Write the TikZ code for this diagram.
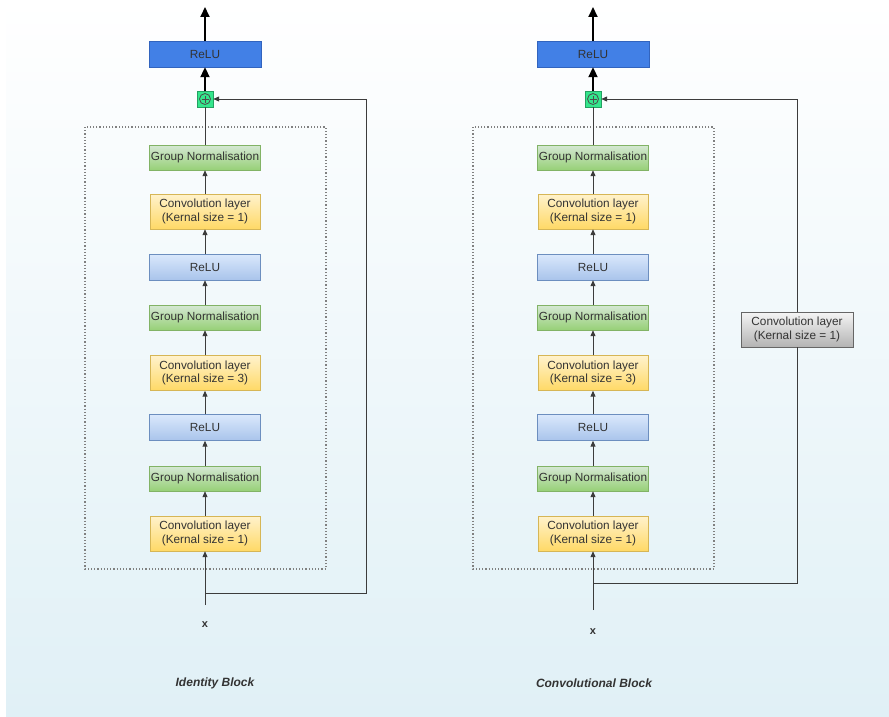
\documentclass[tikz,border=0pt]{standalone}
\usepackage{fontspec}
\setmainfont{Liberation Sans}
\usetikzlibrary{arrows.meta}

\definecolor{txtgray}{RGB}{51,51,51}
\definecolor{linegray}{RGB}{60,60,60}
\definecolor{bgblue}{RGB}{224,240,246}
\definecolor{reluTopFill}{RGB}{66,128,230}
\definecolor{reluTopLine}{RGB}{50,100,190}
\definecolor{reluA}{RGB}{218,232,252}
\definecolor{reluB}{RGB}{169,196,235}
\definecolor{reluLine}{RGB}{108,142,191}
\definecolor{gnA}{RGB}{213,232,212}
\definecolor{gnB}{RGB}{151,208,119}
\definecolor{gnLine}{RGB}{130,179,102}
\definecolor{convA}{RGB}{255,242,204}
\definecolor{convB}{RGB}{255,217,102}
\definecolor{convLine}{RGB}{214,182,86}
\definecolor{skipA}{RGB}{245,245,245}
\definecolor{skipB}{RGB}{179,179,179}
\definecolor{skipLine}{RGB}{102,102,102}
\definecolor{plusFill}{RGB}{52,230,140}

\tikzset{
  layer/.style={draw, inner sep=0pt, align=center, text=txtgray,
    font=\fontsize{11.8}{13.5}\selectfont},
  reluTop/.style={layer, fill=reluTopFill, draw=reluTopLine, minimum width=112, minimum height=26},
  relu/.style={layer, top color=reluA, bottom color=reluB, draw=reluLine, minimum width=111, minimum height=26},
  gnorm/.style={layer, top color=gnA, bottom color=gnB, draw=gnLine, minimum width=111, minimum height=25},
  conv/.style={layer, top color=convA, bottom color=convB, draw=convLine, minimum width=110, minimum height=35},
  skipconv/.style={layer, top color=skipA, bottom color=skipB, draw=skipLine, minimum width=112, minimum height=35},
  addnode/.style={draw=plusFill!70!black, fill=plusFill, minimum size=16, inner sep=0pt,
    path picture={
      \draw[line width=0.8pt, black!70] (path picture bounding box.center) circle (5.5pt);
      \draw[line width=0.8pt, black!70] ([xshift=-3.5pt]path picture bounding box.center) -- ([xshift=3.5pt]path picture bounding box.center);
      \draw[line width=0.8pt, black!70] ([yshift=-3.5pt]path picture bounding box.center) -- ([yshift=3.5pt]path picture bounding box.center);
    }},
  flow/.style={draw=linegray, line width=1pt, -{Triangle[length=6pt,width=5pt]}},
  bigflow/.style={draw=black, line width=2pt, -{Triangle[length=10pt,width=9pt]}},
  plain/.style={draw=linegray, line width=1pt},
  frame/.style={draw=gray, line width=1.2pt, dotted},
  title/.style={font=\fontsize{12}{14}\selectfont\bfseries\itshape, text=txtgray},
}

\begin{document}
\begin{tikzpicture}[x=1pt,y=-1pt]
  \useasboundingbox (0,0) rectangle (889,717);
  % background panel, white at the top fading to pale blue
  \fill[white] (0,0) rectangle (889,717);
  \shade[top color=white, bottom color=bgblue] (6,0) rectangle (889,717);

  % the two blocks share the same main path
  \foreach \b/\cx/\sy/\iy/\xy in {id/205/593/605/625, cv/593/583/610/632} {
    \draw[frame] (\cx-120,127) rectangle (\cx+121,569);
    \node[reluTop] (\b Out) at (\cx,54) {ReLU};
    \node[addnode] (\b Plus) at (\cx,99) {};
    \node[gnorm] (\b GN3) at (\cx,157.5) {Group Normalisation};
    \node[conv] (\b Conv3) at (\cx,211.5) {Convolution layer\\(Kernal size = 1)};
    \node[relu] (\b ReLU2) at (\cx,267) {ReLU};
    \node[gnorm] (\b GN2) at (\cx,317.5) {Group Normalisation};
    \node[conv] (\b Conv2) at (\cx,373) {Convolution layer\\(Kernal size = 3)};
    \node[relu] (\b ReLU1) at (\cx,427.5) {ReLU};
    \node[gnorm] (\b GN1) at (\cx,478.5) {Group Normalisation};
    \node[conv] (\b Conv1) at (\cx,533.5) {Convolution layer\\(Kernal size = 1)};
    \node[font=\fontsize{11}{13}\selectfont\bfseries, text=txtgray] (\b X) at (\cx,\xy) {x};
    \coordinate (\b In) at (\cx,\iy);
    \coordinate (\b Split) at (\cx,\sy);
    \coordinate (\b Top) at (\cx,7);

    \draw[flow] (\b In) -- (\b Conv1);
    \draw[flow] (\b Conv1) -- (\b GN1);
    \draw[flow] (\b GN1) -- (\b ReLU1);
    \draw[flow] (\b ReLU1) -- (\b Conv2);
    \draw[flow] (\b Conv2) -- (\b GN2);
    \draw[flow] (\b GN2) -- (\b ReLU2);
    \draw[flow] (\b ReLU2) -- (\b Conv3);
    \draw[flow] (\b Conv3) -- (\b GN3);
    \draw[plain] (\b GN3) -- (\b Plus);
    \draw[bigflow] (\b Plus) -- (\b Out);
    \draw[bigflow] (\b Out) -- (\b Top);
  }

  % shortcut of the identity block
  \draw[flow] (idSplit) -| (366,99) -- (idPlus);

  % shortcut of the convolutional block
  \node[skipconv] (cvSkip) at (797,329.5) {Convolution layer\\(Kernal size = 1)};
  \draw[plain] (cvSplit) -| (cvSkip);
  \draw[flow] (cvSkip) |- (cvPlus);

  \node[title] (idTitle) at (215,683) {Identity Block};
  \node[title] (cvTitle) at (594,683) {Convolutional Block};
\end{tikzpicture}
\end{document}
